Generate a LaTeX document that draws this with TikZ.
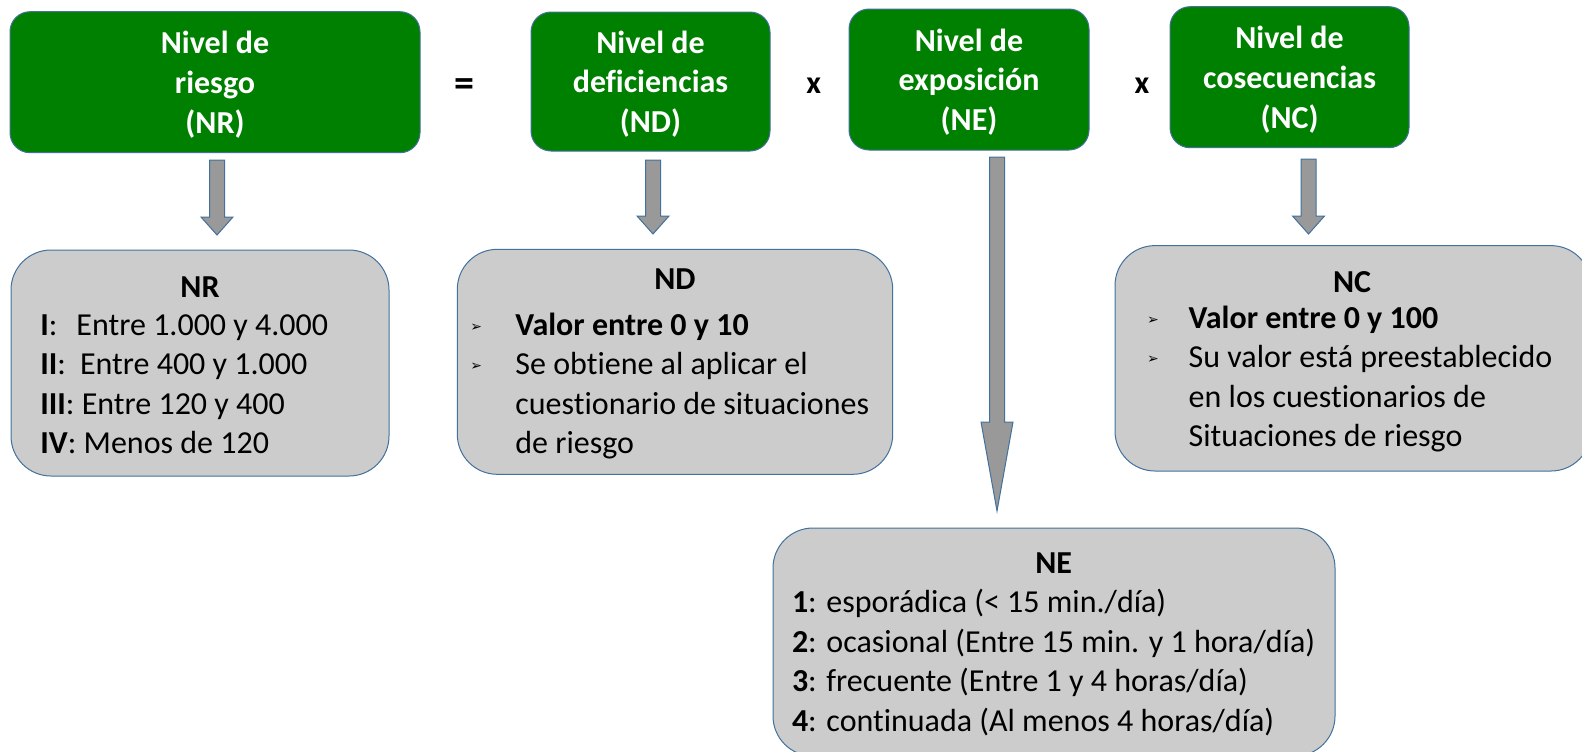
\documentclass[tikz,border=0pt]{standalone}
\usepackage{fontspec}
\setmainfont{Carlito}[Ligatures=NoCommon]
\newfontfamily\dejavu{DejaVu Sans}
\usetikzlibrary{calc}

\definecolor{boxgreen}{HTML}{008000}
\definecolor{boxgray}{HTML}{CCCCCC}
\definecolor{arrowgray}{HTML}{999999}
\definecolor{edgeblue}{HTML}{41719C}

% small arrowhead bullet, #1 = indent of the item text
\newcommand{\bul}[1]{\makebox[#1][l]{\raisebox{2.2pt}{\dejavu\fontsize{7}{7}\selectfont ➢}}}

\begin{document}
\begin{tikzpicture}[x=0.5pt, y=-0.5pt,
  head/.style={draw=edgeblue, line width=0.5pt, fill=boxgreen, rounded corners=10pt,
    text=white, font=\fontsize{16}{19.8}\selectfont\bfseries, align=center, text depth=0pt},
  info/.style={draw=edgeblue, line width=0.5pt, fill=boxgray, rounded corners=20pt},
  ttl/.style={font=\fontsize{16}{19.7}\selectfont\bfseries, inner sep=0pt},
  body/.style={font=\fontsize{16}{19.7}\selectfont, align=left, anchor=west, inner sep=0pt},
  op/.style={font=\fontsize{16}{19}\selectfont\bfseries, inner sep=0pt},
  blk/.style={draw=edgeblue, line width=0.5pt, fill=arrowgray}
]
\useasboundingbox (0,0) rectangle (1582,751);
\clip (0,0) rectangle (1582,751);

% formula row
\node[head, minimum width=205pt, minimum height=70.5pt] (gNR) at (215,82.2) {Nivel de\\riesgo\\(NR)};
\node[op, font=\fontsize{20}{20}\selectfont\bfseries] (eq) at (464.7,88) {=};
\node[head, minimum width=119.5pt, minimum height=69.5pt] (gND) at (650.5,81.5) {Nivel de\\deficiencias\\(ND)};
\node[op] (x1) at (813.8,86) {x};
\node[head, minimum width=120pt, minimum height=70.5pt] (gNE) at (969,79.5) {Nivel de\\exposición\\(NE)};
\node[op] (x2) at (1142,86) {x};
\node[head, minimum width=119.5pt, minimum height=70.5pt] (gNC) at (1289.5,77.2) {Nivel de\\cosecuencias\\(NC)};

% detail boxes
\node[info, minimum width=189pt, minimum height=113pt] (bNR) at (200,363) {};
\node[info, minimum width=217.7pt, minimum height=112.5pt] (bND) at (675,361.8) {};
\node[info, minimum width=238pt, minimum height=112.7pt] (bNC) at (1353,358.3) {};
\node[info, minimum width=281pt, minimum height=114pt] (bNE) at (1054,642) {};

\node[ttl] (tNR) at (200,286.7) {NR};
\node[ttl] (tND) at (675,279.3) {ND};
\node[ttl] (tNC) at (1352,281.7) {NC};
\node[ttl] (tNE) at (1053.7,563.3) {NE};

\node[body] (lNR) at (40,384.2) {\textbf{I}:\hspace{9.5pt}Entre 1.000 y 4.000\\
  \textbf{II}:\hspace{7pt}Entre 400 y 1.000\\
  \textbf{III}: Entre 120 y 400\\
  \textbf{IV}: Menos de 120};
\node[body] (lND) at (470,386.2) {\bul{22.5pt}\textbf{Valor entre 0 y 10}\\
  \bul{22.5pt}Se obtiene al aplicar el\\
  \hspace*{22.5pt}cuestionario de situaciones\\
  \hspace*{22.5pt}de riesgo};
\node[body] (lNC) at (1146.7,379.2) {\bul{20.8pt}\textbf{Valor entre 0 y 100}\\
  \bul{20.8pt}Su valor está preestablecido\\
  \hspace*{20.8pt}en los cuestionarios de\\
  \hspace*{20.8pt}Situaciones de riesgo};
\node[body] (lNE) at (791.6,662.5) {\textbf{1}: esporádica (< 15 min./día)\\
  \textbf{2}: ocasional (Entre 15 min. y 1 hora/día)\\
  \textbf{3}: frecuente (Entre 1 y 4 horas/día)\\
  \textbf{4}: continuada (Al menos 4 horas/día)};

% block arrows
\coordinate (nrA) at (217,160);    \coordinate (nrB) at (217,235);
\coordinate (ndA) at (653,160);    \coordinate (ndB) at (653,234);
\coordinate (ncA) at (1308.5,159); \coordinate (ncB) at (1308.5,234);
\coordinate (neA) at (997,157);    \coordinate (neB) at (997,511);
\foreach \a/\b/\h in {nrA/nrB/18, ndA/ndB/18, ncA/ncB/18, neA/neB/89} {
  \draw[blk] ($(\a)+(-7.5,0)$) -- ($(\a)+(7.5,0)$) -- ($(\b)+(7.5,-\h)$)
    -- ($(\b)+(16,-\h)$) -- (\b) -- ($(\b)+(-16,-\h)$) -- ($(\b)+(-7.5,-\h)$) -- cycle;
}
\end{tikzpicture}
\end{document}
